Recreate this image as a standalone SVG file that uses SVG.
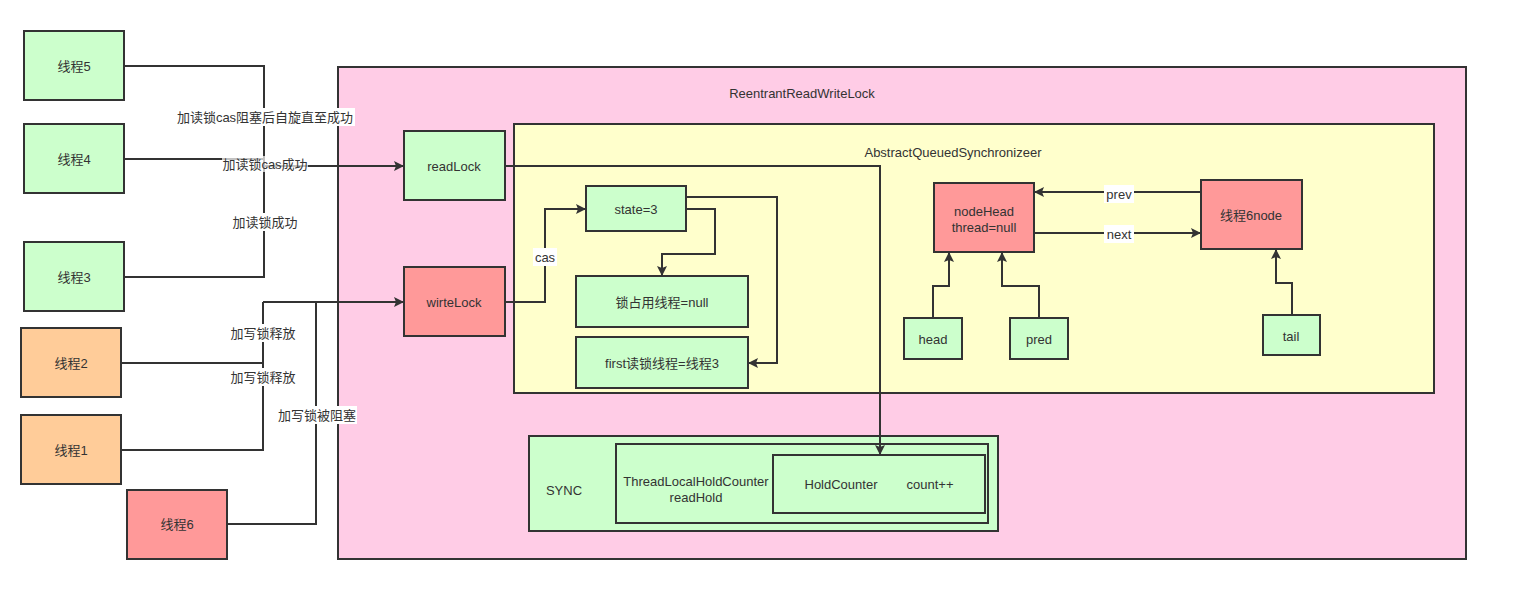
<svg xmlns="http://www.w3.org/2000/svg" width="1522" height="601" viewBox="0 0 1522 601">
<defs>
<marker id="arr" viewBox="0 0 10 10" refX="10" refY="5" markerWidth="11" markerHeight="10" markerUnits="userSpaceOnUse" orient="auto"><path d="M0,0 L10,5 L0,10 L2,5 z" fill="#333"/></marker>
<style>
rect.n{stroke:#333;stroke-width:2}
.g{fill:#CCFFCC}.o{fill:#FFCC99}.r{fill:#FF9999}.p{fill:#FFCCE6}.y{fill:#FFFFCC}
text{font-family:"Liberation Sans","Noto Sans CJK SC",sans-serif;font-size:13px;fill:#333;text-anchor:middle;dominant-baseline:central}
.e{fill:none;stroke:#333;stroke-width:2}
.a{marker-end:url(#arr)}
.lb{fill:#fff}
</style>
</defs>
<rect width="1522" height="601" fill="#fff"/>
<g id="rrwl"><rect class="n p" x="338" y="67" width="1128" height="492"/><text x="802" y="93">ReentrantReadWriteLock</text></g>
<g id="aqs"><rect class="n y" x="514" y="124" width="920" height="269"/><text x="953" y="152">AbstractQueuedSynchronizeer</text></g>
<g id="sync"><rect class="n g" x="529" y="436" width="469" height="95"/><text x="564" y="490">SYNC</text></g>
<g id="tlhc"><rect class="n g" x="616" y="444" width="372" height="79"/><text x="696" y="481">ThreadLocalHoldCounter</text><text x="696" y="497">readHold</text></g>
<g id="hc"><rect class="n g" x="773" y="455" width="212" height="58"/><text x="841" y="484">HoldCounter</text><text x="930" y="484">count++</text></g>
<g id="t5"><rect class="n g" x="24" y="31" width="100" height="69"/><text x="74" y="66">线程5</text></g>
<g id="t4"><rect class="n g" x="24" y="124" width="100" height="69"/><text x="74" y="159">线程4</text></g>
<g id="t3"><rect class="n g" x="24" y="242" width="100" height="69"/><text x="74" y="277">线程3</text></g>
<g id="t2"><rect class="n o" x="21" y="328" width="100" height="69"/><text x="71" y="363">线程2</text></g>
<g id="t1"><rect class="n o" x="21" y="415" width="100" height="69"/><text x="71" y="450">线程1</text></g>
<g id="t6"><rect class="n r" x="127" y="490" width="100" height="69"/><text x="177" y="524">线程6</text></g>
<g id="readLock"><rect class="n g" x="404" y="131" width="101" height="69"/><text x="454" y="166">readLock</text></g>
<g id="wirteLock"><rect class="n r" x="404" y="267" width="101" height="69"/><text x="454" y="302">wirteLock</text></g>
<g id="state"><rect class="n g" x="586" y="186" width="100" height="45"/><text x="636" y="209">state=3</text></g>
<g id="owner"><rect class="n g" x="576" y="276" width="172" height="51"/><text x="662" y="302">锁占用线程=null</text></g>
<g id="first"><rect class="n g" x="576" y="337" width="172" height="51"/><text x="662" y="363">first读锁线程=线程3</text></g>
<g id="nodeHead"><rect class="n r" x="934" y="183" width="100" height="69"/><text x="984" y="211">nodeHead</text><text x="984" y="227">thread=null</text></g>
<g id="t6node"><rect class="n r" x="1201" y="180" width="101" height="69"/><text x="1251" y="215">线程6node</text></g>
<g id="head"><rect class="n g" x="904" y="318" width="58" height="41"/><text x="933" y="339">head</text></g>
<g id="pred"><rect class="n g" x="1010" y="318" width="58" height="41"/><text x="1039" y="339">pred</text></g>
<g id="tail"><rect class="n g" x="1263" y="315" width="57" height="40"/><text x="1291" y="336">tail</text></g>
<g id="connectors">
<path class="e" d="M124,66 H264 V166"/>
<path class="e" d="M124,277 H264 V166"/>
<path class="e a" d="M124,159 H264 V166 H404"/>
<rect class="lb" x="175" y="108" width="180" height="18"/><text x="265" y="117">加读锁cas阻塞后自旋直至成功</text>
<rect class="lb" x="222" y="156" width="86" height="16" opacity="0.7"/><text x="265" y="164">加读锁cas成功</text>
<rect class="lb" x="232" y="213" width="66" height="18"/><text x="265" y="222">加读锁成功</text>
<path class="e" d="M121,363 H263 V302"/>
<path class="e" d="M121,450 H263 V302"/>
<path class="e a" d="M227,524 H316 V302 H404"/>
<path class="e" d="M263,302 H316"/>
<rect class="lb" x="231" y="324" width="64" height="18"/><text x="263" y="333">加写锁释放</text>
<rect class="lb" x="231" y="368" width="64" height="18"/><text x="263" y="377">加写锁释放</text>
<rect class="lb" x="277" y="406" width="80" height="18"/><text x="317" y="415">加写锁被阻塞</text>
<path class="e a" d="M505,166 H880 V455"/>
<path class="e a" d="M505,302 H545 V209 H586"/>
<rect class="lb" x="533" y="248" width="24" height="18"/><text x="545" y="257">cas</text>
<path class="e a" d="M686,209 H715 V254 H662 V276"/>
<path class="e a" d="M686,197 H777 V363 H748"/>
<path class="e a" d="M1201,192 H1034"/>
<path class="e a" d="M1034,233 H1201"/>
<rect class="lb" x="1104" y="185" width="30" height="18"/><text x="1119" y="194">prev</text>
<rect class="lb" x="1104" y="225" width="30" height="18"/><text x="1119" y="234">next</text>
<path class="e a" d="M933,318 V286 H949 V252"/>
<path class="e a" d="M1039,318 V286 H1002 V252"/>
<path class="e a" d="M1292,315 V283 H1276 V249"/>
</g>
</svg>
